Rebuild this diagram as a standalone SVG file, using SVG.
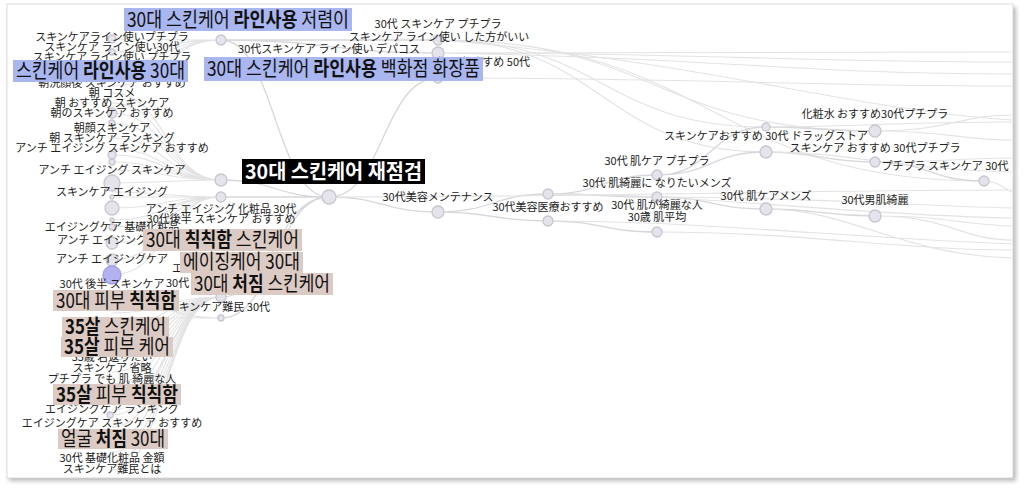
<svg xmlns="http://www.w3.org/2000/svg" width="1024" height="488" viewBox="0 0 1024 488">
<defs>
<filter id="sh" x="-5%" y="-5%" width="110%" height="110%"><feGaussianBlur stdDeviation="2"/></filter>
<clipPath id="cp"><rect x="7" y="4" width="1006" height="473"/></clipPath>
<style>
.ln{fill:none;stroke:#e3e3e5;stroke-width:1.1}
.ld{fill:none;stroke:#d8d8dc;stroke-width:1.3}
.nd{fill:#e5e3eb;stroke:#c8c6cf;stroke-width:1.3}
.np{fill:#b3b1ef;stroke:#a09ee2;stroke-width:1.3}
.s{font-family:"Noto Sans CJK JP","Noto Sans CJK KR",sans-serif;font-size:11px;fill:#222;text-anchor:middle}
.se{font-family:"Noto Sans CJK JP","Noto Sans CJK KR",sans-serif;font-size:11px;fill:#222;text-anchor:end}
.ss{font-family:"Noto Sans CJK JP","Noto Sans CJK KR",sans-serif;font-size:11px;fill:#222}
.bl{fill:#a9b6f0}
.pk{fill:#dccbc4}
.bk{fill:#000}
.L{font-family:"Noto Sans CJK KR","Noto Sans CJK JP",sans-serif;font-size:20px;fill:#111}
.W{font-family:"Noto Sans CJK KR","Noto Sans CJK JP",sans-serif;font-size:20px;fill:#fff;font-weight:700}
.b{font-weight:700}
</style>
</defs>
<rect x="9" y="7" width="1007" height="474" fill="#8a8a8a" opacity="0.6" filter="url(#sh)"/>
<rect x="7" y="4" width="1006" height="474" fill="#fff" stroke="#d4d4d4" stroke-width="0.8"/>
<g clip-path="url(#cp)">
<g id="connectors">
<path class="ln" d="M112 39C166 39 166 40 221 40M112 52C166 52 166 40 221 40M112 64C166 64 166 40 221 40M112 76C166 76 166 40 221 40M112 86C166 86 166 40 221 40"/>
<path class="ln" d="M112 93C166 93 166 180 221 180M112 103C166 103 166 180 221 180M112 113C166 113 166 180 221 180M112 123C166 123 166 180 221 180M112 138C166 138 166 180 221 180M112 149C166 149 166 180 221 180M112 155C166 155 166 180 221 180M112 162C166 162 166 180 221 180M112 170C166 170 166 180 221 180M112 183C166 183 166 180 221 180"/>
<path class="ln" d="M112 192C166 192 166 197 221 197M112 197C166 197 166 197 221 197M112 208C166 208 166 197 221 197M112 220C166 220 166 197 221 197M112 227C166 227 166 197 221 197M112 243C166 243 166 197 221 197M112 260C166 260 166 197 221 197M112 275C166 275 166 197 221 197"/>
<path class="ln" d="M112 313C166 313 166 297 221 297M112 327C166 327 166 297 221 297M112 340C166 340 166 297 221 297M112 350C166 350 166 297 221 297M112 360C166 360 166 297 221 297M112 372C166 372 166 297 221 297M112 384C166 384 166 297 221 297M112 396C166 396 166 297 221 297M112 410C166 410 166 297 221 297M112 415C166 415 166 297 221 297M112 427C166 427 166 297 221 297M112 440C166 440 166 297 221 297M112 452C166 452 166 297 221 297M112 462C166 462 166 297 221 297M112 470C166 470 166 297 221 297"/>
<path class="ln" d="M112 300C166 300 166 318 221 318M112 318C166 318 166 318 221 318"/>
<path class="ld" d="M221 40C275 40 275 197 329 197M221 180C275 180 275 197 329 197M221 197L329 197M221 297C275 297 275 197 329 197M221 318C275 318 275 197 329 197"/>
<path class="ld" d="M329 197C383 197 383 212 438 212M329 197C383 197 383 78 438 78M221 40C329 40 329 40 438 40M221 40C329 40 329 53 438 53"/>
<path class="ln" d="M438 53C620 53 700 52 1012 52M438 53C700 53 800 62 1012 62M438 53C720 58 800 74 1012 74M438 78C700 78 800 86 1012 86"/>
<path class="ln" d="M438 40C602 40 602 152 766 152M438 40C602 40 602 127 766 127M438 40C656 40 656 131 875 131M438 40C711 40 711 181 984 181M438 40C700 60 850 110 1012 120"/>
<path class="ld" d="M438 212C493 212 493 194 548 194M438 212C493 212 493 221 548 221M548 194C602 194 602 175 657 175M548 194C602 194 602 197 657 197M548 221C602 221 602 232 657 232"/>
<path class="ld" d="M657 175C711 175 711 127 766 127M657 175C711 175 711 152 766 152M657 197C711 197 711 209 766 209M766 127C820 127 820 131 875 131M766 152C820 152 820 162 875 162M766 209C820 209 820 216 875 216M875 162C929 162 929 181 984 181"/>
<path class="ln" d="M875 131C950 131 960 115 1012 115M875 131C950 131 960 140 1012 140M875 162C950 162 960 158 1012 158M984 181C1000 181 1005 190 1012 192M875 216C950 216 960 225 1012 226M875 216C950 216 960 240 1012 240M766 209C850 209 900 255 1012 258M657 232C800 232 900 250 1012 250M548 221C700 221 850 238 1012 244M657 197C800 197 900 205 1012 208M766 152C850 152 900 170 1012 172M766 127C850 127 900 122 1012 122M329 197C600 197 800 190 1012 190M548 194C700 194 850 215 1012 218"/>
</g>
<g id="nodes">
<g id="n-left"><circle class="nd" cx="112" cy="39" r="4"/><circle class="nd" cx="112" cy="52" r="3"/><circle class="nd" cx="112" cy="113" r="5"/><circle class="nd" cx="112" cy="123" r="3"/><circle class="nd" cx="112" cy="155" r="4"/><circle class="nd" cx="112" cy="162" r="3"/><circle class="nd" cx="112" cy="183" r="8"/><circle class="nd" cx="112" cy="197" r="2"/><circle class="nd" cx="112" cy="208" r="7"/><circle class="nd" cx="112" cy="220" r="2"/><circle class="nd" cx="112" cy="227" r="3"/><circle class="nd" cx="112" cy="243" r="6"/><circle class="nd" cx="112" cy="260" r="6"/><circle class="np" cx="112" cy="275" r="9"/><circle class="nd" cx="110" cy="415" r="3"/></g>
<g id="n-221"><circle class="nd" cx="221" cy="40" r="5"/><circle class="nd" cx="221" cy="180" r="6"/><circle class="nd" cx="221" cy="197" r="5"/><circle class="nd" cx="221" cy="297" r="5"/><circle class="nd" cx="221" cy="318" r="3"/></g>
<g id="n-root"><circle class="nd" cx="329" cy="197" r="7"/></g>
<g id="n-438"><circle class="nd" cx="438" cy="40" r="5"/><circle class="nd" cx="438" cy="53" r="6"/><circle class="nd" cx="438" cy="78" r="5"/><circle class="nd" cx="438" cy="212" r="6"/></g>
<g id="n-548"><circle class="nd" cx="548" cy="194" r="5"/><circle class="nd" cx="548" cy="221" r="5"/></g>
<g id="n-657"><circle class="nd" cx="657" cy="175" r="5"/><circle class="nd" cx="657" cy="197" r="5"/><circle class="nd" cx="657" cy="232" r="5"/></g>
<g id="n-766"><circle class="nd" cx="766" cy="127" r="4"/><circle class="nd" cx="766" cy="152" r="6"/><circle class="nd" cx="766" cy="209" r="6"/></g>
<g id="n-875"><circle class="nd" cx="875" cy="131" r="6"/><circle class="nd" cx="875" cy="162" r="5"/><circle class="nd" cx="875" cy="216" r="6"/></g>
<g id="n-984"><circle class="nd" cx="984" cy="181" r="5"/></g>
</g>
<g id="labels">
<text class="s" x="112" y="41">スキンケアライン使いプチプラ</text>
<text class="s" x="112" y="51">スキンケア ライン使い30代</text>
<text class="s" x="112" y="61">スキンケア ライン使い プチプラ</text>
<text class="s" x="112" y="87">朝洗顔後 スキンケア おすすめ</text>
<text class="s" x="112" y="97">朝 コスメ</text>
<text class="s" x="112" y="107">朝 おすすめ スキンケア</text>
<text class="s" x="112" y="117">朝のスキンケア おすすめ</text>
<text class="s" x="112" y="132">朝顔スキンケア</text>
<text class="s" x="112" y="142">朝 スキンケア ランキング</text>
<text class="s" x="112" y="152">アンチ エイジング スキンケア おすすめ</text>
<text class="s" x="112" y="174">アンチ エイジング スキンケア</text>
<text class="s" x="112" y="196">スキンケア エイジング</text>
<text class="s" x="112" y="231">エイジングケア 基礎化粧品</text>
<text class="ss" x="57" y="244">アンチ エイジング</text>
<text class="s" x="112" y="263">アンチ エイジングケア</text>
<text class="ss" x="172" y="272">エ</text>
<text class="s" x="112" y="288">30代 後半 スキンケア</text>
<text class="ss" x="166" y="287">30代</text>
<text class="se" x="270" y="311">スキンケア難民 30代</text>
<text class="s" x="112" y="361">35歳 若返りたい</text>
<text class="s" x="112" y="372">スキンケア 省略</text>
<text class="s" x="112" y="383">プチプラ でも 肌 綺麗な人</text>
<text class="s" x="112" y="413">エイジングケア ランキング</text>
<text class="s" x="112" y="427">エイジングケア スキンケア おすすめ</text>
<text class="s" x="112" y="462">30代 基礎化粧品 金額</text>
<text class="s" x="112" y="473">スキンケア難民とは</text>
<text class="s" x="329" y="53">30代スキンケア ライン使い デパコス</text>
<text class="s" x="438" y="28">30代 スキンケア プチプラ</text>
<text class="s" x="439" y="41">スキンケア ライン使い した方がいい</text>
<text class="se" x="530" y="66">スキンケア おすすめ 50代</text>
<text class="s" x="221" y="213">アンチ エイジング 化粧品 30代</text>
<text class="s" x="221" y="223">30代後半 スキンケア おすすめ</text>
<text class="s" x="438" y="201">30代美容メンテナンス</text>
<text class="s" x="548" y="211">30代美容医療おすすめ</text>
<text class="s" x="657" y="165">30代 肌ケア プチプラ</text>
<text class="s" x="657" y="187">30代 肌綺麗に なりたいメンズ</text>
<text class="s" x="657" y="209">30代 肌が綺麗な人</text>
<text class="s" x="657" y="221">30歳 肌平均</text>
<text class="s" x="766" y="140">スキンケアおすすめ 30代 ドラッグストア</text>
<text class="s" x="766" y="200">30代 肌ケアメンズ</text>
<text class="s" x="875" y="118">化粧水 おすすめ30代プチプラ</text>
<text class="s" x="875" y="152">スキンケア おすすめ 30代プチプラ</text>
<text class="s" x="945" y="170">プチプラ スキンケア 30代</text>
<text class="s" x="875" y="204">30代男肌綺麗</text>
</g>
<g id="highlights">
<g id="h1"><rect class="bl" x="124" y="8" width="228" height="23"/><text class="L" x="127" y="27" textLength="222" lengthAdjust="spacingAndGlyphs">30대 스킨케어 <tspan class="b">라인사용</tspan> 저렴이</text></g>
<g id="h2"><rect class="bl" x="13" y="60" width="175" height="22"/><text class="L" x="16" y="78" textLength="169" lengthAdjust="spacingAndGlyphs">스킨케어 <tspan class="b">라인사용</tspan> 30대</text></g>
<g id="h3"><rect class="bl" x="204" y="57" width="279" height="24"/><text class="L" x="207" y="76" textLength="273" lengthAdjust="spacingAndGlyphs">30대 스킨케어 <tspan class="b">라인사용</tspan> 백화점 화장품</text></g>
<g id="h4"><rect class="bk" x="242" y="159" width="183" height="25"/><text class="W" x="245" y="179" textLength="177" lengthAdjust="spacingAndGlyphs">30대 스킨케어 재점검</text></g>
<g id="h5"><rect class="pk" x="143" y="229" width="159" height="22"/><text class="L" x="146" y="247" textLength="153" lengthAdjust="spacingAndGlyphs">30대 <tspan class="b">칙칙함</tspan> 스킨케어</text></g>
<g id="h6"><rect class="pk" x="180" y="252" width="123" height="21"/><text class="L" x="183" y="269" textLength="117" lengthAdjust="spacingAndGlyphs">에이징케어 30대</text></g>
<g id="h7"><rect class="pk" x="191" y="273" width="142" height="22"/><text class="L" x="194" y="291" textLength="136" lengthAdjust="spacingAndGlyphs">30대 <tspan class="b">처짐</tspan> 스킨케어</text></g>
<g id="h8"><rect class="pk" x="53" y="290" width="126" height="21"/><text class="L" x="56" y="308" textLength="120" lengthAdjust="spacingAndGlyphs">30대 피부 <tspan class="b">칙칙함</tspan></text></g>
<g id="h9"><rect class="pk" x="62" y="317" width="107" height="20"/><text class="L" x="65" y="334" textLength="101" lengthAdjust="spacingAndGlyphs"><tspan class="b">35살</tspan> 스킨케어</text></g>
<g id="h10"><rect class="pk" x="61" y="337" width="112" height="20"/><text class="L" x="64" y="354" textLength="106" lengthAdjust="spacingAndGlyphs"><tspan class="b">35살</tspan> 피부 케어</text></g>
<g id="h11"><rect class="pk" x="53" y="384" width="128" height="21"/><text class="L" x="56" y="402" textLength="122" lengthAdjust="spacingAndGlyphs"><tspan class="b">35살</tspan> 피부 <tspan class="b">칙칙함</tspan></text></g>
<g id="h12"><rect class="pk" x="58" y="429" width="110" height="20"/><text class="L" x="61" y="446" textLength="104" lengthAdjust="spacingAndGlyphs">얼굴 <tspan class="b">처짐</tspan> 30대</text></g>
</g>
</g>
</svg>
